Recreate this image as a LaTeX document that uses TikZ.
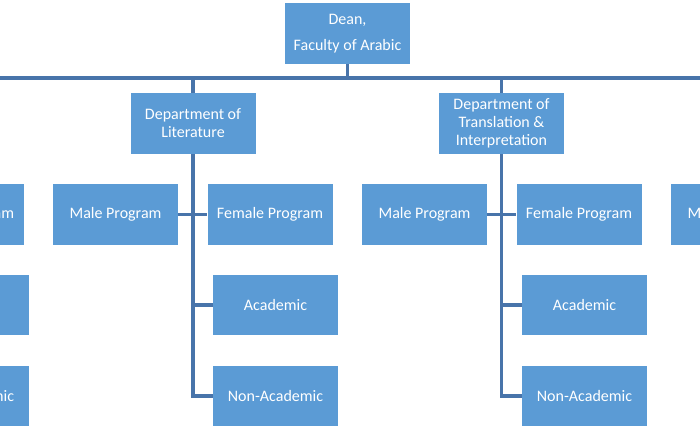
\documentclass[tikz,border=0pt]{standalone}
\usepackage{fontspec}
\setmainfont{Carlito}
\usepackage{tikz}
\usetikzlibrary{positioning}
\usepackage{xcolor}
\definecolor{boxblue}{HTML}{5B9BD5}
\definecolor{linkblue}{HTML}{4874AA}
\tikzset{
  unit/.style={fill=boxblue, text=white, minimum width=93.75pt, minimum height=45.5pt,
    inner sep=1pt, align=center, font=\fontsize{12}{13.5}\selectfont},
  link/.style={draw=linkblue, line width=2.3pt}
}

\begin{document}
\begin{tikzpicture}[x=0.75pt,y=0.75pt,yscale=-1,xscale=1]
\path[use as bounding box, clip] (0,0) rectangle (700,430);

%Shape: Dean
\node[unit] (dean) at (347.5,33.5) {Dean,\\[6pt]Faculty of Arabic};
%Shape: Departments
\node[unit] (lit) at (193,123.5) {Department of\\Literature};
\node[unit] (trans) at (501.5,123.5) {Department of\\Translation \&\\Interpretation};

%Shape: Literature units
\node[unit] (litmale) at (115.5,214.5) {Male Program};
\node[unit] (litfemale) at (270,214.5) {Female Program};
\node[unit] (litacad) at (275.5,305) {Academic};
\node[unit] (litnonacad) at (275.5,396) {Non-Academic};

%Shape: Translation units
\node[unit] (transmale) at (424.5,214.5) {Male Program};
\node[unit] (transfemale) at (579,214.5) {Female Program};
\node[unit] (transacad) at (584.5,305) {Academic};
\node[unit] (transnonacad) at (584.5,396) {Non-Academic};

%Shape: units cut at the left edge
\node[unit] (leftfemale) at (-39,214.5) {Female Program};
\node[unit] (leftacad) at (-33.5,305) {Academic};
\node[unit] (leftnonacad) at (-33.5,396) {Non-Academic};
%Shape: unit cut at the right edge
\node[unit] (rightmale) at (733.5,214.5) {Male Program};

%Straight Lines: bus below the dean
\coordinate (bus) at (347.5,78);
\coordinate (busW) at (0,78);
\coordinate (busE) at (700,78);
\draw[link] (dean) -- (bus);
\draw[link] (busW) -- (busE);
\draw[link] (bus) -| (lit);
\draw[link] (bus) -| (trans);

%Straight Lines: Literature
\draw[link] (lit) |- (litnonacad);
\draw[link] (litacad.west) -- (litacad.west -| lit.south);
\draw[link] (litmale) -- (litfemale);

%Straight Lines: Translation
\draw[link] (trans) |- (transnonacad);
\draw[link] (transacad.west) -- (transacad.west -| trans.south);
\draw[link] (transmale) -- (transfemale);

\end{tikzpicture}
\end{document}
